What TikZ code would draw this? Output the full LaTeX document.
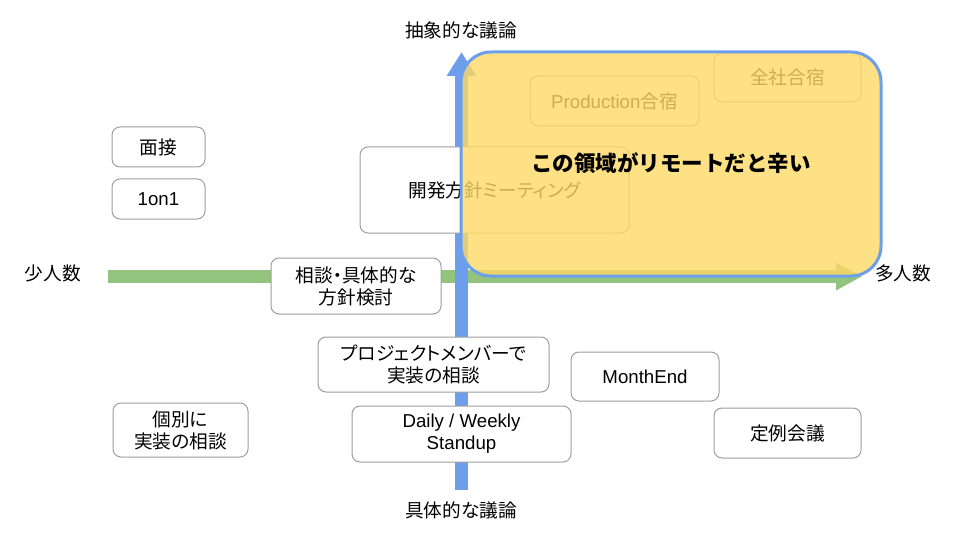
\documentclass[tikz,border=0pt]{standalone}
\usepackage{fontspec}
\setmainfont{Liberation Sans}
\newfontfamily\jpfont[RawFeature=+palt]{Noto Sans CJK JP}
\newfontfamily\jptitle{Noto Sans CJK JP}
\usetikzlibrary{arrows.meta}
\definecolor{axisblue}{HTML}{6D9EEB}
\definecolor{axisgreen}{HTML}{93C47D}
\definecolor{zoneyellow}{HTML}{FFD966}
\definecolor{boxgray}{HTML}{9E9E9E}
\newcommand{\ja}[1]{{\jpfont #1}}

\begin{document}
\begin{tikzpicture}[x=1pt,y=-1pt,every node/.style={font=\fontsize{18.67}{22}\selectfont,inner sep=0pt},
  evbox/.style={rectangle,draw=boxgray,line width=1pt,fill=white,rounded corners=8pt,align=center}]
  \useasboundingbox (0,0) rectangle (960,540);
  % axes
  \coordinate (vlo) at (461.5,490);
  \coordinate (vhi) at (461.5,52);
  \coordinate (hlo) at (108,276.5);
  \coordinate (hhi) at (862,276.5);
  \draw[axisgreen,line width=12.5pt,-{Triangle[length=26pt,width=26pt]}] (hlo) -- (hhi);
  \draw[axisblue,line width=12.5pt,-{Triangle[length=24pt,width=28pt]}] (vlo) -- (vhi);
  \node (abstract) at (461,30) {\ja{抽象的な議論}};
  \node (concrete) at (461,510) {\ja{具体的な議論}};
  \node (few) at (53,273) {\ja{少人数}};
  \node (many) at (903,273) {\ja{多人数}};
  % meetings
  \node[evbox,minimum width=93pt,minimum height=40pt] (interview) at (158.5,147) {\ja{面接}};
  \node[evbox,minimum width=93pt,minimum height=40pt] (oneonone) at (158.5,199) {1on1};
  \node[evbox,minimum width=135pt,minimum height=54pt] (pairtalk) at (180.5,430) {\ja{個別に}\\\ja{実装の相談}};
  \node[evbox,minimum width=269pt,minimum height=86pt] (devpolicy) at (494.5,190) {\ja{開発方針ミーティング}};
  \node[evbox,minimum width=170pt,minimum height=56pt] (policytalk) at (356,286) {\ja{相談・具体的な}\\\ja{方針検討}};
  \node[evbox,minimum width=231pt,minimum height=55pt] (teamtalk) at (433.5,364.5) {\ja{プロジェクトメンバーで}\\\ja{実装の相談}};
  \node[evbox,minimum width=219pt,minimum height=56pt] (standup) at (461.5,434) {Daily / Weekly\\Standup};
  \node[evbox,minimum width=148pt,minimum height=49pt] (monthend) at (645,376.5) {MonthEnd};
  \node[evbox,minimum width=147pt,minimum height=50pt] (regular) at (787.5,433) {\ja{定例会議}};
  \node[evbox,minimum width=169pt,minimum height=50pt] (prodcamp) at (614.5,101) {Production\ja{合宿}};
  \node[evbox,minimum width=147pt,minimum height=49pt] (allcamp) at (787.5,77.5) {\ja{全社合宿}};
  % hard zone
  \node[rectangle,draw=axisblue,line width=3pt,fill=zoneyellow,fill opacity=0.8,rounded corners=30pt,
        minimum width=420pt,minimum height=224pt] (zone) at (671,164) {};
  \node[font=\fontsize{21.5}{24}\selectfont] (pain) at (671,163) {\jptitle\bfseries この領域がリモートだと辛い};
\end{tikzpicture}
\end{document}
